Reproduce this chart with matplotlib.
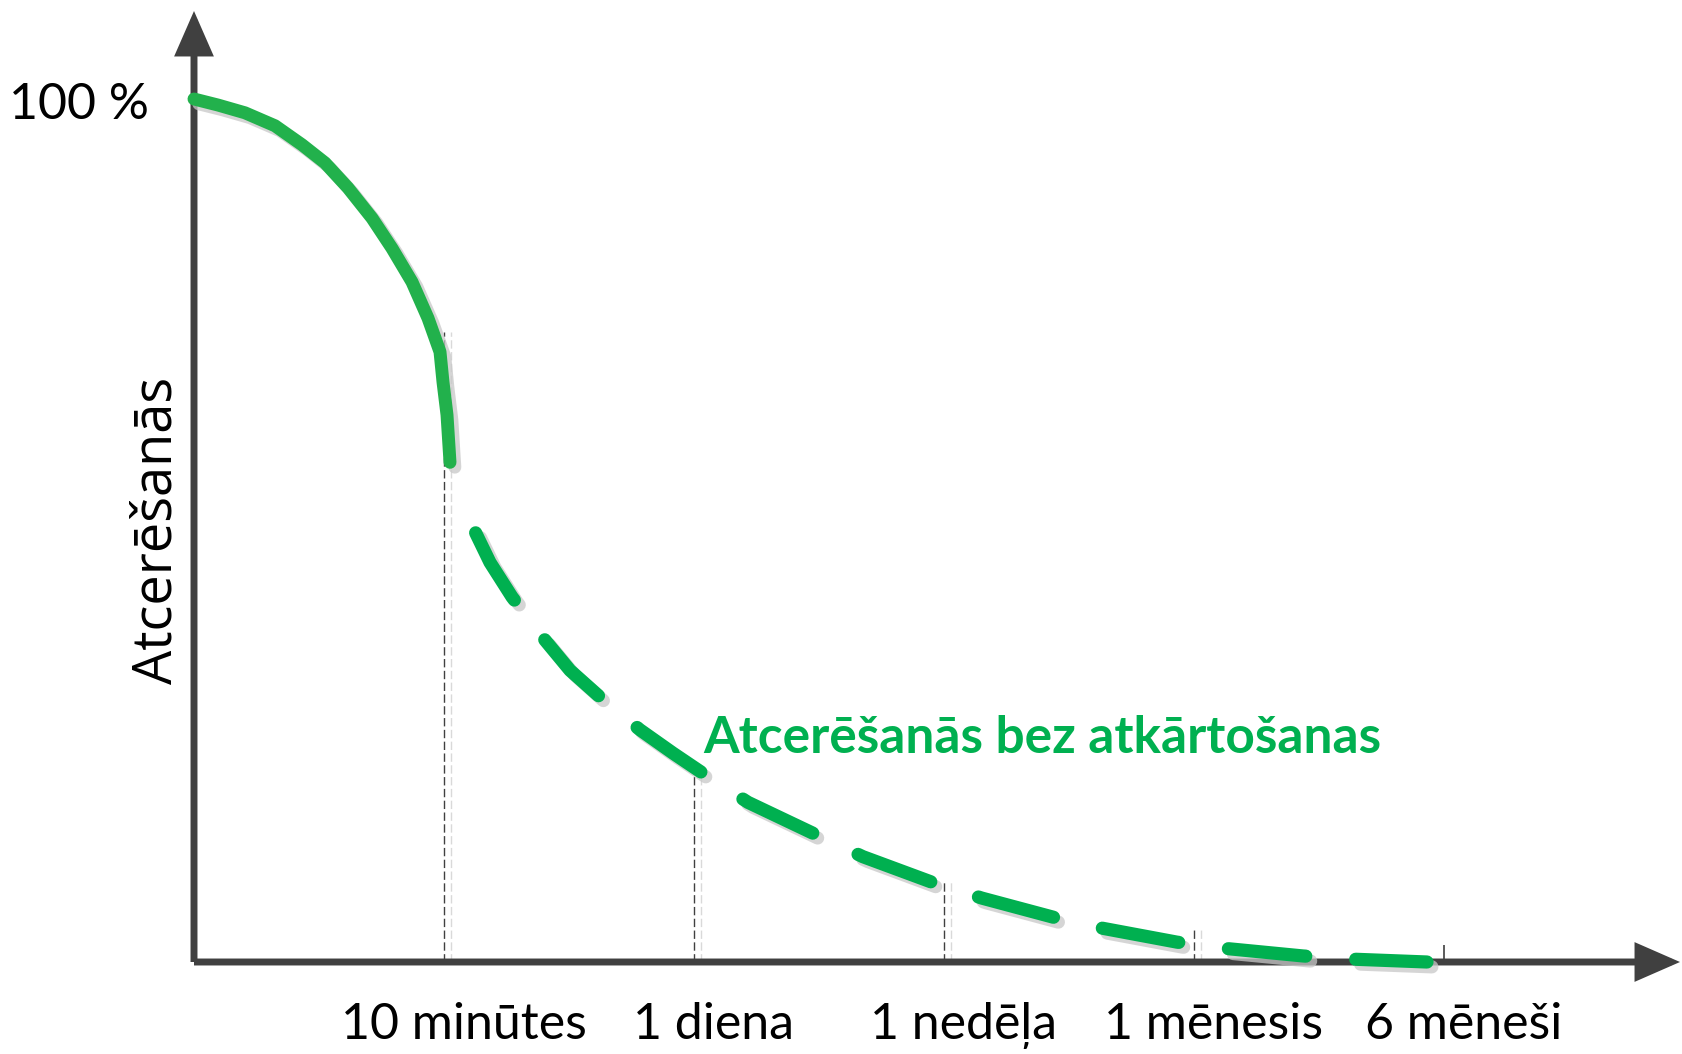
import matplotlib
matplotlib.use("Agg")
import matplotlib.pyplot as plt
import matplotlib.patheffects as pe

# ---------------- data ----------------
TICK_POS = [1, 2, 3, 4, 5]
TICK_LABELS = ["10 minūtes", "1 diena", "1 nedēļa", "1 mēnesis", "6 mēneši"]
GUIDE_TOP = [73.0, 22.1, 9.3, 4.1]          # dashed guides for first four ticks
END_TICK_TOP = 2.0                           # short solid tick at "6 mēneši"

SOLID_X = [0, 0.096, 0.204, 0.324, 0.432, 0.524, 0.616, 0.712, 0.792, 0.872,
           0.936, 0.984, 0.996, 1.012, 1.024]
SOLID_Y = [100, 99.3, 98.4, 96.9, 94.7, 92.6, 89.7, 86.2, 82.7, 78.8,
           74.6, 70.7, 67.2, 63.4, 57.9]

DASH_X = [1.112, 1.184, 1.272, 1.404, 1.504, 1.624, 1.784, 1.916, 2.044, 2.216,
          2.492, 2.676, 2.956, 3.152, 3.436, 3.636, 3.932, 4.116, 4.436, 4.616, 4.932]
DASH_Y = [50.6, 46.3, 42.3, 37.3, 33.8, 30.7, 26.9, 24.2, 21.7, 18.5,
          14.7, 12.2, 9.2, 7.4, 5.2, 3.9, 2.3, 1.6, 0.7, 0.35, 0.0]

Y_TOP_LABEL = "100 %"
Y_LABEL = "Atcerēšanās"
CURVE_LABEL = "Atcerēšanās bez atkārtošanas"

# ---------------- style ----------------
plt.rcParams["lines.scale_dashes"] = False
AXIS_COLOR = "#404040"
GREEN = "#00B050"
GREEN_SOLID = "#22B14C"

W, H = 1683, 1054
fig = plt.figure(figsize=(W / 100, H / 100), dpi=100)
ax = fig.add_axes([0, 0, 1, 1])
# map: x px = 194 + 250*x ; y px(from top) = 962 - 8.63*y
ax.set_xlim(-194 / 250, (W - 194) / 250)
ax.set_ylim(-(H - 962) / 8.63, 962 / 8.63)
ax.axis("off")

X_END = (1680 - 194) / 250
Y_END = (962 - 11) / 8.63

# axes with arrows
arrow_style = "-|>,head_length=2.4,head_width=1.05"
for xy, xytext in [((X_END, 0), (0, 0)), ((0, Y_END), (0, 0))]:
    ax.annotate("", xy=xy, xytext=xytext,
                arrowprops=dict(arrowstyle=arrow_style, lw=5, color=AXIS_COLOR,
                                mutation_scale=10, shrinkA=0, shrinkB=0,
                                joinstyle="miter", capstyle="butt"),
                zorder=3)

# guide lines
guide_shadow = [pe.SimpleLineShadow(offset=(5, 0), shadow_color="#d9d9d9", alpha=1.0), pe.Normal()]
vl = ax.vlines(TICK_POS[:4], 0, GUIDE_TOP, colors=AXIS_COLOR, linewidth=1.0,
               linestyles=(0, (6, 2.5)), zorder=2)
vl.set_path_effects(guide_shadow)
ax.vlines([TICK_POS[4]], 0, END_TICK_TOP, colors=AXIS_COLOR, linewidth=1.2, zorder=2)

# forgetting curve
curve_shadow = [pe.SimpleLineShadow(offset=(3.5, -3.5), shadow_color="#c8c8c8", alpha=0.75),
                pe.Normal()]
l1, = ax.plot(SOLID_X, SOLID_Y, color=GREEN_SOLID, lw=9.3, solid_capstyle="round",
              solid_joinstyle="round", zorder=5)
l1.set_path_effects(curve_shadow)
l2, = ax.plot(DASH_X, DASH_Y, color=GREEN, lw=9.5, linestyle=(86, (56, 36)),
              dash_capstyle="round", dash_joinstyle="round", zorder=5)
l2.set_path_effects(curve_shadow)

# texts
ax.text(-0.179, 99.3, Y_TOP_LABEL, fontsize=36, family="Lato", ha="right",
        va="center", color="black")
ax.text(-0.147, 50, Y_LABEL, fontsize=39, family="Open Sans", rotation=90,
        ha="center", va="center", color="black")
for pos, lab in zip(TICK_POS, TICK_LABELS):
    ax.annotate(lab, xy=(pos, 0), xytext=(14, -29), textcoords="offset points",
                ha="center", va="top", fontsize=36, family="Lato", color="black")
ax.text(2.036, 24.2, CURVE_LABEL, fontsize=37, family="Lato", fontweight="bold",
        color=GREEN, ha="left", va="baseline")

fig.savefig("out.png", dpi=100)
